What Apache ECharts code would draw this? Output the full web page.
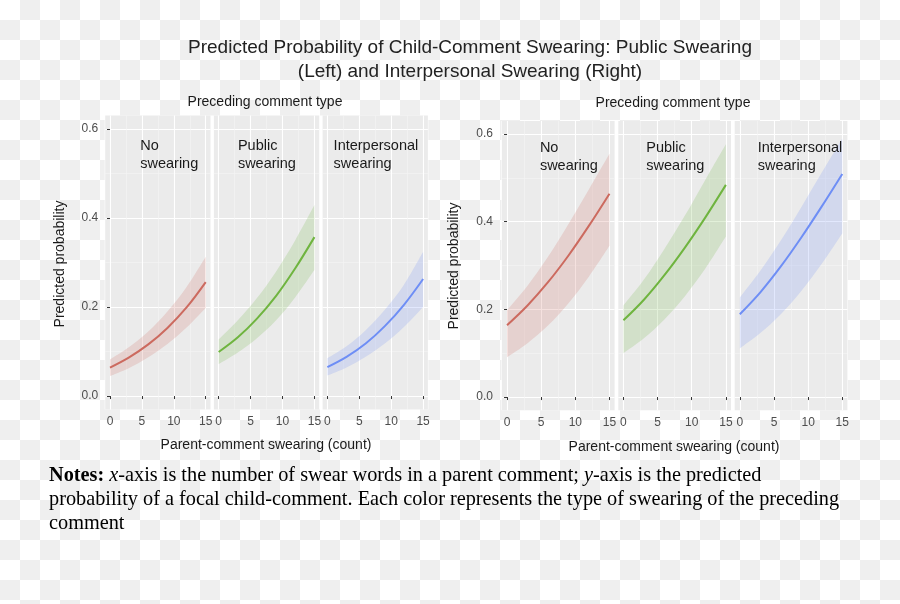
<!DOCTYPE html>
<html>
<head>
<meta charset="utf-8">
<script src="https://cdn.jsdelivr.net/npm/echarts@6/dist/echarts.min.js"></script>
<style>
html,body{margin:0;padding:0;}
body{width:900px;height:604px;background:repeating-conic-gradient(#efefef 0% 25%, #ffffff 0% 50%) 0 0/40px 40px;}
#chart{width:900px;height:604px;}
</style>
</head>
<body>
<div id="chart"></div>
<script>
// ---------------- data ----------------
const xs = [0, 3, 6, 9, 12, 15];
const xTicks = [0, 5, 10, 15];
const xMinor = [2.5, 7.5, 12.5];
const yTicks = [0, 0.2, 0.4, 0.6];
const yMinor = [0.1, 0.3, 0.5];
const facetNames = ['No\nswearing', 'Public\nswearing', 'Interpersonal\nswearing'];
const colors = ['#cc6a5f', '#6fb43f', '#6e8ef5'];

// Left chart: Public swearing
const leftNoFit   = [0.064, 0.087, 0.116, 0.153, 0.199, 0.256];
const leftNoLow   = [0.045, 0.063, 0.087, 0.117, 0.154, 0.198];
const leftNoHigh  = [0.082, 0.110, 0.145, 0.190, 0.245, 0.313];
const leftPubFit  = [0.099, 0.132, 0.174, 0.225, 0.287, 0.357];
const leftPubLow  = [0.072, 0.098, 0.130, 0.170, 0.222, 0.283];
const leftPubHigh = [0.127, 0.170, 0.220, 0.280, 0.350, 0.429];
const leftIntFit  = [0.065, 0.088, 0.118, 0.157, 0.205, 0.263];
const leftIntLow  = [0.046, 0.064, 0.088, 0.118, 0.155, 0.200];
const leftIntHigh = [0.085, 0.112, 0.148, 0.194, 0.250, 0.324];

// Right chart: Interpersonal swearing
const rightNoFit   = [0.164, 0.209, 0.262, 0.323, 0.391, 0.464];
const rightNoLow   = [0.091, 0.123, 0.163, 0.214, 0.275, 0.345];
const rightNoHigh  = [0.198, 0.254, 0.320, 0.395, 0.474, 0.555];
const rightPubFit  = [0.175, 0.222, 0.278, 0.341, 0.410, 0.484];
const rightPubLow  = [0.100, 0.134, 0.177, 0.230, 0.293, 0.366];
const rightPubHigh = [0.209, 0.268, 0.338, 0.414, 0.496, 0.577];
const rightIntFit  = [0.189, 0.239, 0.298, 0.364, 0.435, 0.509];
const rightIntLow  = [0.111, 0.146, 0.189, 0.242, 0.304, 0.373];
const rightIntHigh = [0.227, 0.288, 0.357, 0.433, 0.512, 0.590];

const panelData = [
  [leftNoFit, leftNoLow, leftNoHigh],
  [leftPubFit, leftPubLow, leftPubHigh],
  [leftIntFit, leftIntLow, leftIntHigh],
  [rightNoFit, rightNoLow, rightNoHigh],
  [rightPubFit, rightPubLow, rightPubHigh],
  [rightIntFit, rightIntLow, rightIntHigh]
];

// ---------------- layout ----------------
const FONT = '"Liberation Sans", Arial, Helvetica, sans-serif';
const SERIF = '"Liberation Serif", "Times New Roman", serif';
const charts = [
  {left: 105.2, width: 105.3, gap: 3.4, top: 115.6, height: 293.8},
  {left: 501.9, width: 112.7, gap: 3.7, top: 120.9, height: 289.3}
];
const labelOffsets = [[35, 24, 11], [38, 28, 23]];

// smooth path through pixel points (Catmull-Rom -> cubic Bezier)
function smoothSeg(pts, start) {
  let d = (start ? 'M' : 'L') + pts[0][0] + ' ' + pts[0][1];
  for (let i = 0; i < pts.length - 1; i++) {
    const p0 = pts[Math.max(i - 1, 0)], p1 = pts[i], p2 = pts[i + 1], p3 = pts[Math.min(i + 2, pts.length - 1)];
    const c1 = [p1[0] + (p2[0] - p0[0]) / 6, p1[1] + (p2[1] - p0[1]) / 6];
    const c2 = [p2[0] - (p3[0] - p1[0]) / 6, p2[1] - (p3[1] - p1[1]) / 6];
    d += 'C' + c1[0] + ' ' + c1[1] + ' ' + c2[0] + ' ' + c2[1] + ' ' + p2[0] + ' ' + p2[1];
  }
  return d;
}

const grids = [], xAxes = [], yAxes = [], series = [], graphics = [];

charts.forEach((c, ci) => {
  const totalW = 3 * c.width + 2 * c.gap;
  graphics.push({type: 'rect', z: -5, shape: {x: c.left - 0.5, y: c.top, width: totalW + 1, height: c.height}, style: {fill: '#ffffff'}});
  for (let p = 0; p < 3; p++) {
    const gi = ci * 3 + p;
    const left = c.left + p * (c.width + c.gap);
    grids.push({left: left, top: c.top, width: c.width, height: c.height, show: true, backgroundColor: '#ebebeb', borderWidth: 0, containLabel: false});
    xAxes.push({
      type: 'value', gridIndex: gi, min: -0.75, max: 15.75, position: 'bottom',
      axisLine: {show: false},
      axisTick: {show: true, length: 3, lineStyle: {color: '#333', width: 1}, customValues: xTicks},
      axisLabel: {show: true, color: '#4d4d4d', fontSize: 12, fontFamily: FONT, margin: 6, customValues: xTicks},
      splitLine: {show: true, lineStyle: {color: '#ffffff', width: 1.1}}
    });
    yAxes.push({
      type: 'value', gridIndex: gi, min: -0.03, max: 0.63, position: 'left',
      axisLine: {show: false},
      axisTick: {show: p === 0, length: 3, lineStyle: {color: '#333', width: 1}, customValues: yTicks},
      axisLabel: {show: p === 0, color: '#4d4d4d', fontSize: 12, fontFamily: FONT, margin: ci === 0 ? 7 : 9, customValues: yTicks, formatter: v => v.toFixed(1)},
      splitLine: {show: true, lineStyle: {color: '#ffffff', width: 1.1}}
    });
    const d = panelData[gi];
    const col = colors[p];
    const low = d[1], high = d[2];
    series.push({
      type: 'custom', xAxisIndex: gi, yAxisIndex: gi, silent: true, z: 2,
      data: xs.map((x, i) => [x, low[i], high[i]]),
      encode: {x: 0, y: [1, 2]},
      renderItem: function (params, api) {
        if (params.dataIndexInside !== 0) return null;
        const up = xs.map((x, i) => api.coord([x, high[i]]));
        const lo = xs.map((x, i) => api.coord([x, low[i]])).reverse();
        const path = smoothSeg(up, true) + smoothSeg(lo, false) + 'Z';
        return {type: 'path', shape: {pathData: path}, style: {fill: col, opacity: 0.2}};
      }
    });
    series.push({type: 'line', xAxisIndex: gi, yAxisIndex: gi, data: xs.map((x, i) => [x, d[0][i]]), smooth: 0.35, symbol: 'none', lineStyle: {color: col, width: 2}, silent: true, z: 3});
    graphics.push({type: 'text', z: 50, left: left + labelOffsets[ci][p], top: c.top + 21 - (ci === 0 ? 0 : 3), style: {text: facetNames[p], font: '14.5px ' + FONT, fill: '#1a1a1a', lineHeight: 18}});
  }
});
// minor grid lines (second axes)
charts.forEach((c, ci) => {
  for (let p = 0; p < 3; p++) {
    const gi = ci * 3 + p;
    xAxes.push({type: 'value', gridIndex: gi, min: -0.75, max: 15.75, position: 'top',
      axisLine: {show: false}, axisTick: {show: false, customValues: xMinor}, axisLabel: {show: false, customValues: xMinor},
      splitLine: {show: true, lineStyle: {color: '#f5f5f5', width: 0.6}}});
    yAxes.push({type: 'value', gridIndex: gi, min: -0.03, max: 0.63, position: 'right',
      axisLine: {show: false}, axisTick: {show: false, customValues: yMinor}, axisLabel: {show: false, customValues: yMinor},
      splitLine: {show: true, lineStyle: {color: '#f5f5f5', width: 0.6}}});
  }
});

// titles and texts
graphics.push({type: 'text', z: 50, x: 470, y: 48, style: {text: 'Predicted Probability of Child-Comment Swearing: Public Swearing', font: '19px ' + FONT, fill: '#222', align: 'center', verticalAlign: 'middle'}});
graphics.push({type: 'text', z: 50, x: 470, y: 72, style: {text: '(Left) and Interpersonal Swearing (Right)', font: '19px ' + FONT, fill: '#222', align: 'center', verticalAlign: 'middle'}});
[[265, 102, 266, 445, 60, 264], [673, 103, 674, 447, 454, 266]].forEach(a => {
  graphics.push({type: 'text', z: 50, x: a[0], y: a[1], style: {text: 'Preceding comment type', font: '14px ' + FONT, fill: '#1a1a1a', align: 'center', verticalAlign: 'middle'}});
  graphics.push({type: 'text', z: 50, x: a[2], y: a[3], style: {text: 'Parent-comment swearing (count)', font: '14px ' + FONT, fill: '#1a1a1a', align: 'center', verticalAlign: 'middle'}});
  graphics.push({type: 'text', z: 50, x: a[4], y: a[5], rotation: Math.PI / 2, style: {text: 'Predicted probability', font: '14px ' + FONT, fill: '#1a1a1a', align: 'center', verticalAlign: 'middle'}});
});
const rs = {fontFamily: SERIF, fontSize: 20.3, fill: '#000', lineHeight: 24};
graphics.push({type: 'text', z: 50, left: 49, top: 464, style: {
  text: '{b|Notes:} {n|}{i|x}{n|-axis is the number of swear words in a parent comment; }{i|y}{n|-axis is the predicted}\n{n|probability of a focal child-comment. Each color represents the type of swearing of the preceding}\n{n|comment}',
  fontFamily: SERIF, fontSize: 20.3, fill: '#000', lineHeight: 24,
  rich: {
    b: Object.assign({}, rs, {fontWeight: 'bold'}),
    i: Object.assign({}, rs, {fontStyle: 'italic'}),
    n: Object.assign({}, rs)
  }
}});

const chart = echarts.init(document.getElementById('chart'), null, {renderer: 'canvas'});
chart.setOption({
  backgroundColor: 'transparent',
  animation: false,
  grid: grids, xAxis: xAxes, yAxis: yAxes, series: series, graphic: graphics
});
</script>
</body>
</html>
